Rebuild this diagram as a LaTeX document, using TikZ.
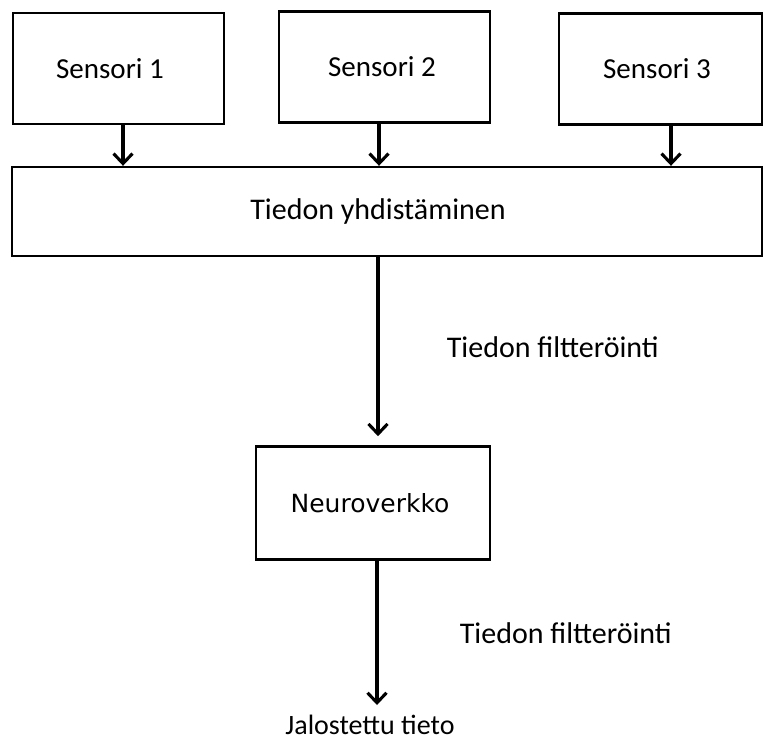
\documentclass[tikz,border=0pt]{standalone}
\usepackage{fontspec}
\setmainfont{Carlito}
\newfontfamily\dejavu{DejaVu Sans}
\usepackage{tikz}
\usetikzlibrary{positioning,arrows.meta}

\begin{document}
\begin{tikzpicture}[x=1pt, y=-1pt, node distance=44pt,
    box/.style={draw, rectangle, line width=2.4pt, inner sep=0pt, font=\fontsize{29}{34}\selectfont},
    note/.style={font=\fontsize{30}{36}\selectfont},
    flow/.style={-{Straight Barb[length=10pt,width=19pt]}, line width=3.1pt}]
  \useasboundingbox (0,0) rectangle (763,742);
  % Tiedon yhdistäminen
  \node[box, minimum width=750pt, minimum height=89pt, font=\fontsize{30}{36}\selectfont] (merge) at (387,211.5) {\hspace*{-18pt}Tiedon yhdistäminen};

  % Sensorit
  \node[box, minimum width=211pt, minimum height=111pt] (s1) at (118.5,68.5) {\hspace*{-17pt}Sensori 1};
  \node[box, minimum width=211pt, minimum height=111pt] (s2) at (384.5,67) {\hspace*{-5pt}Sensori 2};
  \node[box, minimum width=203pt, minimum height=111pt] (s3) at (660.5,69) {\hspace*{-7pt}Sensori 3};
  \draw[flow] ([xshift=4.5pt]s1.south) -- ([xshift=4.5pt]s1.south |- merge.north);
  \draw[flow] ([xshift=-5.5pt]s2.south) -- ([xshift=-5.5pt]s2.south |- merge.north);
  \draw[flow] ([xshift=10.5pt]s3.south) -- ([xshift=10.5pt]s3.south |- merge.north);

  % Neuroverkko
  \node[box, minimum width=234pt, minimum height=113pt, font=\dejavu\fontsize{25}{30}\selectfont,
        below=188pt of merge, xshift=-14pt] (neuro) {\hspace*{-6pt}Neuroverkko};
  \draw[flow] ([xshift=5pt]neuro.north |- merge.south) -- node[right=64pt, note] (filt1) {Tiedon filtteröinti} ([xshift=5pt,yshift=9pt]neuro.north);

  % Jalostettu tieto
  \node[font=\fontsize{28}{33}\selectfont, inner sep=2pt, anchor=north] (out) at (370,713) {Jalostettu tieto};
  \coordinate (outtop) at ([yshift=8pt]out.north);
  \draw[flow] ([xshift=4pt]neuro.south) -- node[right=78pt, note] (filt2) {Tiedon filtteröinti} ([xshift=4pt]neuro.south |- outtop);
\end{tikzpicture}
\end{document}
